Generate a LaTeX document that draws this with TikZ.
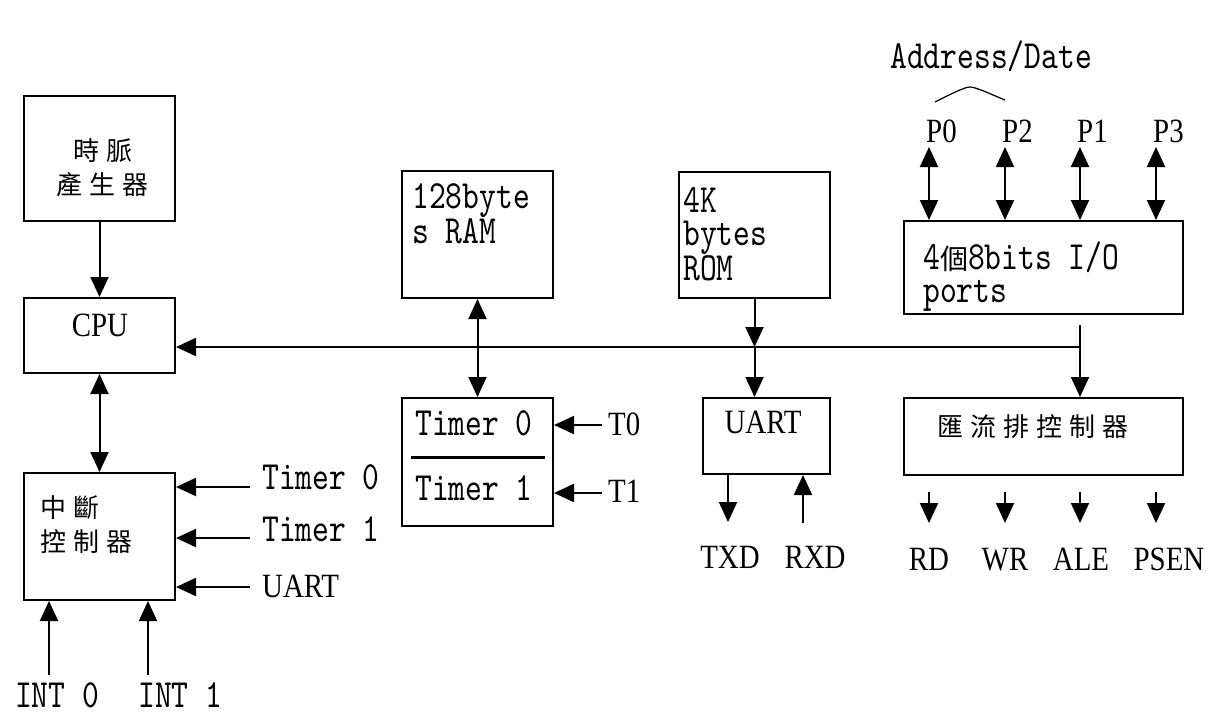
\documentclass[tikz,border=0pt]{standalone}
\usepackage{fontspec}
\setmainfont{Liberation Serif}
\newfontfamily\narrowfont[FakeStretch=0.85]{Liberation Serif}
\newfontfamily\monofont[FakeStretch=0.8]{lmmono10-regular.otf}
\newfontfamily\cjkfont[LetterSpace=27]{Noto Sans CJK TC}
\usepackage{tikz}
\usetikzlibrary{arrows.meta}

\begin{document}
\begin{tikzpicture}[
    x=1pt, y=-1pt,
    >={Triangle[length=20pt,width=18pt]},
    box/.style={
        draw,
        line width=2pt,
        inner sep=0pt,
        anchor=north west
      },
    arr/.style={line width=2pt, ->},
    dbl/.style={line width=2pt, <->},
    mono/.style={font=\monofont\fontsize{40}{33}\selectfont, inner sep=0pt},
    narrow/.style={font=\narrowfont\fontsize{34}{33}\selectfont, inner sep=0pt},
    cjk/.style={font=\cjkfont\fontsize{26}{34}\selectfont, inner sep=0pt}
  ]
  \useasboundingbox (0,0) rectangle (1213,716);

  % ブロック
  \node[box, minimum width=151pt, minimum height=125pt] (clk) at (23,95) {};
  \node[box, minimum width=151pt, minimum height=75pt] (cpu) at (23,297) {};
  \node[box, minimum width=151pt, minimum height=127pt] (intc) at (23,472) {};
  \node[box, minimum width=151pt, minimum height=127pt] (ram) at (401,170) {};
  \node[box, minimum width=151pt, minimum height=128pt] (tmr) at (401,397) {};
  \node[box, minimum width=151pt, minimum height=126pt] (rom) at (678,171) {};
  \node[box, minimum width=127pt, minimum height=76pt] (uart) at (702,397) {};
  \node[box, minimum width=279pt, minimum height=93pt] (io) at (903,220) {};
  \node[box, minimum width=279pt, minimum height=77pt] (busc) at (903,397) {};

  % ブロック内の文字
  \node[cjk, align=center] (clkT) at (103,168) {時脈\\產生器};
  \node[narrow] (cpuT) at (100,325) {CPU};
  \node[cjk, align=left, anchor=west] (intcT) at (40,525) {中斷\\控制器};
  \node[mono, align=left, anchor=north west] (ramT) at (412,183) {128byte\\s RAM};
  \node[mono, align=left, anchor=north west] (romT) at (683,187) {4K\\bytes\\ROM};
  \node[mono, anchor=base west] (tmrA) at (415,435) {Timer 0};
  \node[mono, anchor=base west] (tmrB) at (415,500) {Timer 1};
  \draw[line width=3pt] ([shift={(10pt,-60pt)}]tmr.north west) -- ([shift={(-9pt,-60pt)}]tmr.north east);
  \node[narrow] (uartT) at (763,422) {UART};
  \node[mono, align=left, anchor=north west] (ioT) at (923,242)
    {4{\cjkfont\fontsize{28}{33}\selectfont 個}8bits I/O\\ports};
  \node[cjk, anchor=west] (buscT) at (937,427) {匯流排控制器};

  % 時脈とCPU
  \draw[arr] (clk.south) -- (cpu.north);
  \draw[dbl] (cpu.south) -- (intc.north);

  % 匯流排
  \coordinate (busR) at (1080,347);
  \coordinate (busTop) at (1080,325);
  \draw[arr] (busR) -- (cpu.east |- busR);
  \draw[arr] (busTop) -- (busc.north -| busTop);
  \draw[dbl] (ram.south) -- (tmr.north);
  \draw[arr] (rom.south) -- (rom.south |- busR);
  \draw[arr] (rom.south |- busR) -- (uart.north -| rom.south);

  % 中斷の入力
  \foreach \i/\y/\b/\t/\f in {0/487/489/Timer 0/mono, 1/538/541/Timer 1/mono, 2/587/597/UART/narrow} {
    \coordinate (irq\i) at (250,\y);
    \draw[arr] (irq\i) -- (intc.east |- irq\i);
    \node[\f, anchor=base west] (irqT\i) at (262,\b) {\t};
  }
  \coordinate (int0) at (49,675);
  \coordinate (int1) at (148,675);
  \draw[arr] (int0) -- (intc.south -| int0);
  \draw[arr] (int1) -- (intc.south -| int1);
  \node[mono, anchor=base west] (int0T) at (15,707) {INT 0};
  \node[mono, anchor=base west] (int1T) at (138,707) {INT 1};

  % Timer の入力
  \coordinate (t0In) at (602,425);
  \coordinate (t1In) at (602,493);
  \draw[arr] (t0In) -- (tmr.east |- t0In);
  \draw[arr] (t1In) -- (tmr.east |- t1In);
  \node[narrow, anchor=base west] (t0T) at (608,435) {T0};
  \node[narrow, anchor=base west] (t1T) at (608,502) {T1};

  % UART の出入力
  \coordinate (txEnd) at (728,522);
  \coordinate (rxBeg) at (803,523);
  \draw[arr] (uart.south -| txEnd) -- (txEnd);
  \draw[arr] (rxBeg) -- (uart.south -| rxBeg);
  \node[narrow, anchor=base] (txd) at (730,568) {TXD};
  \node[narrow, anchor=base] (rxd) at (815,568) {RXD};

  % I/O ポート
  \node[mono, anchor=base] (addr) at (991,68) {Address/Date};
  \draw[line width=1.2pt] plot[smooth] coordinates {(935,102) (947,96) (960,90) (970,87) (981,90) (993,95) (1005,100)};
  \foreach \c/\x/\p in {1/929/P0, 2/1005/P2, 3/1080/P1, 4/1156/P3} {
    \coordinate (pin\c) at (\x,147);
    \draw[dbl] (pin\c) -- (io.north -| pin\c);
    \node[narrow, anchor=base west] (port\c) at (\x-3,142) {\p};
  }

  % 制御信号
  \foreach \c/\x/\s/\n in {1/929/0/RD, 2/1005/0/WR, 3/1080/1/ALE, 4/1156/13/PSEN} {
    \coordinate (sbeg\c) at (\x,492);
    \coordinate (send\c) at (\x,523);
    \draw[arr] (sbeg\c) -- (send\c);
    \node[narrow, anchor=base] (sig\c) at (\x+\s,570) {\n};
  }
\end{tikzpicture}
\end{document}
